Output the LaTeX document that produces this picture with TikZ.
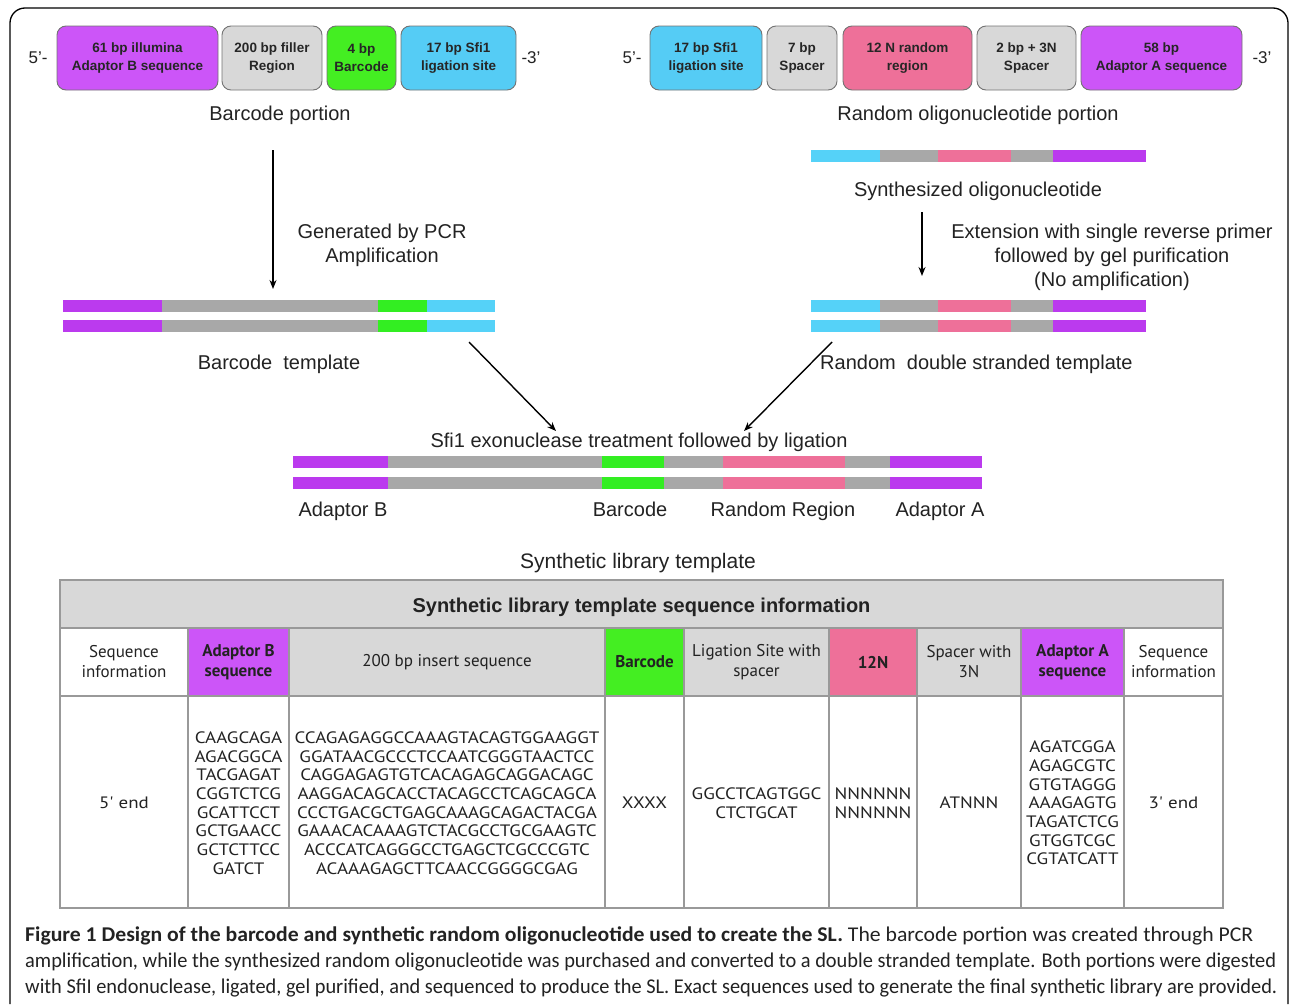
\documentclass[tikz,border=0pt]{standalone}
\usepackage{fontspec}
\usepackage{graphicx}
\setmainfont{Liberation Sans}
\newfontfamily\gill{PT Sans}
\newfontfamily\capfont{Carlito}
\usetikzlibrary{arrows.meta}
\definecolor{cmag}{HTML}{CC55F8}
\definecolor{smag}{HTML}{BB3AEE}
\definecolor{cgry}{HTML}{D8D8D8}
\definecolor{sgry}{HTML}{A8A8A8}
\definecolor{cgrn}{HTML}{44EE22}
\definecolor{sgrn}{HTML}{33EE22}
\definecolor{ccyn}{HTML}{55CCF5}
\definecolor{scyn}{HTML}{55D2F8}
\definecolor{cpnk}{HTML}{EE7099}
\definecolor{spnk}{HTML}{EE7099}
\definecolor{tline}{HTML}{999999}
\definecolor{txt}{HTML}{222222}
\newcommand{\seqtab}[1]{\scalebox{1.15}[1]{\begin{tabular}{@{}c@{}}#1\end{tabular}}}
\begin{document}
\begin{tikzpicture}[x=1pt,y=-1pt,
  seg/.style={draw=black!55, rounded corners=9pt, line width=0.9pt, minimum height=64pt,
    inner sep=0pt, align=center, text=black!85,
    font=\fontsize{13.5}{18}\selectfont\bfseries},
  endlbl/.style={font=\fontsize{17}{20}\selectfont, text=txt},
  lbl/.style={font=\fontsize{20}{24}\selectfont, text=txt, align=center, inner sep=0pt},
  blbl/.style={lbl, anchor=base},
  flow/.style={-{Stealth[length=9pt,width=7pt]}, line width=1.4pt, black},
  cell/.style={draw=tline, line width=1.3pt, inner sep=0pt, align=center, text=txt,
    font=\gill\fontsize{17}{20}\selectfont},
  hcell/.style={cell, font=\gill\fontsize{17}{20}\selectfont\bfseries},
  seq/.style={font=\gill\fontsize{16.5}{18.7}\selectfont, text=txt, inner sep=0pt, yshift=-3pt},
  captext/.style={anchor=west, inner sep=0pt, text=txt, font=\capfont\fontsize{21}{24}\selectfont}
]
\useasboundingbox (0,0) rectangle (1290,1004);
% frame
\draw[line width=1.3pt, rounded corners=15pt] (10,1004) -- (10,8) -- (1288,8) -- (1288,1004);

% ---- top left boxes
\node[endlbl] (l5) at (38,58) {5'-};
\node[seg, fill=cmag, minimum width=161pt] (lb1) at (137.5,58) {61 bp illumina\\Adaptor B sequence};
\node[seg, fill=cgry, minimum width=100pt] (lb2) at (272,58) {200 bp filler\\Region};
\node[seg, fill=cgrn, minimum width=69pt] (lb3) at (361.5,58) {4 bp\\Barcode};
\node[seg, fill=ccyn, minimum width=115pt] (lb4) at (458.5,58) {17 bp Sfi1\\ligation site};
\node[endlbl] (l3) at (531,58) {-3'};
\node[blbl] (bcp) at (280,120) {Barcode portion};

% ---- top right boxes
\node[endlbl] (r5) at (632,58) {5'-};
\node[seg, fill=ccyn, minimum width=112pt] (rb1) at (706,58) {17 bp Sfi1\\ligation site};
\node[seg, fill=cgry, minimum width=70pt] (rb2) at (802,58) {7 bp\\Spacer};
\node[seg, fill=cpnk, minimum width=129pt] (rb3) at (907.5,58) {12 N random\\region};
\node[seg, fill=cgry, minimum width=99pt] (rb4) at (1026.5,58) {2 bp + 3N\\Spacer};
\node[seg, fill=cmag, minimum width=161pt] (rb5) at (1161.5,58) {58 bp\\Adaptor A sequence};
\node[endlbl] (r3) at (1262,58) {-3'};
\node[blbl] (rop) at (978,120) {Random oligonucleotide portion};

% ---- synthesized oligo strip
\foreach \a/\b/\c in {811/880/scyn, 880/938/sgry, 938/1011/spnk, 1011/1053/sgry, 1053/1146/smag}
  \fill[\c] (\a,150) rectangle (\b,162);
\node[blbl] (syn) at (978,196) {Synthesized oligonucleotide};

% ---- left template strips
\foreach \y in {300,320}{
  \foreach \a/\b/\c in {63/162/smag, 162/378/sgry, 378/427/sgrn, 427/495/scyn}
    \fill[\c] (\a,\y) rectangle (\b,\y+12);
}
\node[lbl] (gen) at (382,245) {Generated by PCR\\Amplification};
\node[blbl] (btmpl) at (279,369) {Barcode\ \ template};

% ---- right double strand strips
\foreach \y in {300,320}{
  \foreach \a/\b/\c in {811/880/scyn, 880/938/sgry, 938/1011/spnk, 1011/1053/sgry, 1053/1146/smag}
    \fill[\c] (\a,\y) rectangle (\b,\y+12);
}
\node[lbl] (ext) at (1112,257) {Extension with single reverse primer\\followed by gel purification\\(No amplification)};
\node[blbl, anchor=base west] (rtmpl) at (820,369) {Random\ \ double stranded template};

% ---- middle
\node[blbl] (sfi) at (639,447) {Sfi1 exonuclease treatment followed by ligation};
\foreach \y in {456,477}{
  \foreach \a/\b/\c in {293/388/smag, 388/602/sgry, 602/664/sgrn, 664/723/sgry, 723/845/spnk, 845/890/sgry, 890/982/smag}
    \fill[\c] (\a,\y) rectangle (\b,\y+12);
}
\node[blbl] (adb) at (343,516) {Adaptor B};
\node[blbl] (bcd) at (630,516) {Barcode};
\node[blbl] (rnd) at (783,516) {Random Region};
\node[blbl] (ada) at (940,516) {Adaptor A};
\node[blbl, font=\fontsize{21}{24}\selectfont] (slt) at (638,568) {Synthetic library template};

% ---- arrows
\coordinate (a1s) at (273,150); \coordinate (a1e) at (273,289);
\coordinate (a2s) at (922,212); \coordinate (a2e) at (922,276);
\coordinate (a3s) at (469,342); \coordinate (a3e) at (556,431);
\coordinate (a4s) at (832,342); \coordinate (a4e) at (744,431);
\draw[flow] (a1s) -- (a1e);
\draw[flow] (a2s) -- (a2e);
\draw[flow] (a3s) -- (a3e);
\draw[flow] (a4s) -- (a4e);

% ---- table
\node[draw=tline, line width=1.3pt, fill=cgry, minimum width=1163pt, minimum height=48pt,
  inner sep=0pt] (thead) at (641.5,604) {};
\node[blbl, font=\fontsize{20}{24}\selectfont\bfseries] (theadt) at (641.5,612) {Synthetic library template sequence information};
% header row
\node[cell, minimum width=128pt, minimum height=68pt] (h1) at (124,662) {Sequence\\information};
\node[hcell, fill=cmag, minimum width=101pt, minimum height=68pt] (h2) at (238.5,662) {Adaptor B\\sequence};
\node[cell, fill=cgry, minimum width=316pt, minimum height=68pt] (h3) at (447,662) {200 bp insert sequence};
\node[hcell, fill=cgrn, minimum width=79pt, minimum height=68pt] (h4) at (644.5,662) {Barcode};
\node[cell, fill=cgry, minimum width=145pt, minimum height=68pt] (h5) at (756.5,662) {Ligation Site with\\spacer};
\node[hcell, fill=cpnk, minimum width=88pt, minimum height=68pt] (h6) at (873,662) {12N};
\node[cell, fill=cgry, minimum width=104pt, minimum height=68pt] (h7) at (969,662) {Spacer with\\3N};
\node[hcell, fill=cmag, minimum width=103pt, minimum height=68pt] (h8) at (1072.5,662) {Adaptor A\\sequence};
\node[cell, minimum width=99pt, minimum height=68pt] (h9) at (1173.5,662) {Sequence\\information};
% body row
\node[cell, minimum width=128pt, minimum height=212pt] (d1) at (124,802) {};
\node[seq] at (d1) {\seqtab{5' end}};
\node[cell, minimum width=101pt, minimum height=212pt] (d2) at (238.5,802) {};
\node[seq] at (d2) {\seqtab{CAAGCAGA\\AGACGGCA\\TACGAGAT\\CGGTCTCG\\GCATTCCT\\GCTGAACC\\GCTCTTCC\\GATCT}};
\node[cell, minimum width=316pt, minimum height=212pt] (d3) at (447,802) {};
\node[seq] at (d3) {\seqtab{CCAGAGAGGCCAAAGTACAGTGGAAGGT\\GGATAACGCCCTCCAATCGGGTAACTCC\\CAGGAGAGTGTCACAGAGCAGGACAGC\\AAGGACAGCACCTACAGCCTCAGCAGCA\\CCCTGACGCTGAGCAAAGCAGACTACGA\\GAAACACAAAGTCTACGCCTGCGAAGTC\\ACCCATCAGGGCCTGAGCTCGCCCGTC\\ACAAAGAGCTTCAACCGGGGCGAG}};
\node[cell, minimum width=79pt, minimum height=212pt] (d4) at (644.5,802) {};
\node[seq] at (d4) {\seqtab{XXXX}};
\node[cell, minimum width=145pt, minimum height=212pt] (d5) at (756.5,802) {};
\node[seq] at (d5) {\seqtab{GGCCTCAGTGGC\\CTCTGCAT}};
\node[cell, minimum width=88pt, minimum height=212pt] (d6) at (873,802) {};
\node[seq] at (d6) {\seqtab{NNNNNN\\NNNNNN}};
\node[cell, minimum width=104pt, minimum height=212pt] (d7) at (969,802) {};
\node[seq] at (d7) {\seqtab{ATNNN}};
\node[cell, minimum width=103pt, minimum height=212pt] (d8) at (1072.5,802) {};
\node[seq] at (d8) {\seqtab{AGATCGGA\\AGAGCGTC\\GTGTAGGG\\AAAGAGTG\\TAGATCTCG\\GTGGTCGC\\CGTATCATT}};
\node[cell, minimum width=99pt, minimum height=212pt] (d9) at (1173.5,802) {};
\node[seq] at (d9) {\seqtab{3' end}};

% ---- caption
\node[captext] (cap1) at (25,936) {\resizebox{1228pt}{\height}{\textbf{Figure 1 Design of the barcode and synthetic random oligonucleotide used to create the SL.} The barcode portion was created through PCR}};
\node[captext] (cap2) at (25,962) {\resizebox{1251pt}{\height}{amplification, while the synthesized random oligonucleotide was purchased and converted to a double stranded template. Both portions were digested}};
\node[captext] (cap3) at (25,988) {\resizebox{1252pt}{\height}{with SfiI endonuclease, ligated, gel purified, and sequenced to produce the SL. Exact sequences used to generate the final synthetic library are provided.}};
\end{tikzpicture}
\end{document}
